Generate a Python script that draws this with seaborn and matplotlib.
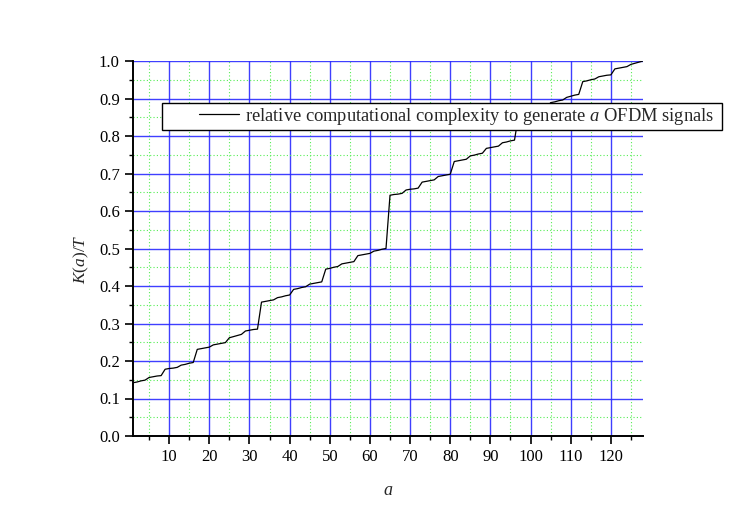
import numpy as np
import pandas as pd
import matplotlib
matplotlib.use("Agg")
import matplotlib.pyplot as plt
from matplotlib.ticker import MultipleLocator
from matplotlib.legend_handler import HandlerLine2D
import seaborn as sns

# ---- data ----
a_values = list(range(1, 129))
K_values = [
    0.142, 0.144, 0.147, 0.149, 0.156, 0.158, 0.160, 0.161,
    0.178, 0.180, 0.181, 0.183, 0.189, 0.191, 0.194, 0.196,
    0.231, 0.233, 0.235, 0.237, 0.243, 0.245, 0.247, 0.249,
    0.262, 0.265, 0.268, 0.271, 0.280, 0.282, 0.284, 0.285,
    0.357, 0.359, 0.361, 0.363, 0.369, 0.371, 0.374, 0.376,
    0.391, 0.393, 0.396, 0.398, 0.405, 0.407, 0.409, 0.411,
    0.445, 0.447, 0.450, 0.452, 0.459, 0.461, 0.463, 0.465,
    0.481, 0.483, 0.485, 0.487, 0.493, 0.495, 0.498, 0.500,
    0.642, 0.644, 0.645, 0.647, 0.656, 0.658, 0.659, 0.661,
    0.677, 0.679, 0.681, 0.683, 0.692, 0.694, 0.696, 0.698,
    0.732, 0.734, 0.736, 0.738, 0.747, 0.749, 0.752, 0.754,
    0.767, 0.769, 0.771, 0.773, 0.782, 0.784, 0.787, 0.789,
    0.855, 0.857, 0.859, 0.861, 0.868, 0.870, 0.872, 0.874,
    0.889, 0.891, 0.894, 0.896, 0.903, 0.906, 0.909, 0.911,
    0.945, 0.947, 0.950, 0.952, 0.958, 0.960, 0.962, 0.963,
    0.979, 0.981, 0.983, 0.985, 0.991, 0.994, 0.997, 1.000,
]
x_ticks = [10, 20, 30, 40, 50, 60, 70, 80, 90, 100, 110, 120]
y_ticks = [0.0, 0.1, 0.2, 0.3, 0.4, 0.5, 0.6, 0.7, 0.8, 0.9, 1.0]
series_label = "relative computational complexity to generate $a$ OFDM signals  "

df = pd.DataFrame({"a": a_values, "K": K_values})

sns.set_theme(style="white")
plt.rcParams["font.family"] = ["Liberation Serif", "DejaVu Serif"]
plt.rcParams["mathtext.fontset"] = "custom"
plt.rcParams["mathtext.it"] = "Liberation Serif:italic"
plt.rcParams["mathtext.rm"] = "Liberation Serif"

fig = plt.figure(figsize=(7.47, 5.23), dpi=100)
ax = fig.add_axes([133 / 747, 1 - 436 / 523, 510 / 747, 375 / 523])

sns.lineplot(data=df, x="a", y="K", ax=ax, color="black", linewidth=0.9,
             label=series_label, zorder=3)

ax.set_xlim(1, 128)
ax.set_ylim(0, 1.0)
ax.set_xticks(x_ticks)
ax.set_yticks(y_ticks)
ax.set_yticklabels([f"{v:.1f}" for v in y_ticks])
ax.xaxis.set_minor_locator(MultipleLocator(5))
ax.yaxis.set_minor_locator(MultipleLocator(0.05))

ax.grid(which="major", color="#2a2aff", linewidth=1.0, linestyle="-", alpha=0.9)
ax.grid(which="minor", color="#55ee55", linewidth=0.8, linestyle=(0, (1, 2)))
ax.set_axisbelow(True)

for s in ["top", "right"]:
    ax.spines[s].set_visible(False)
for s in ["left", "bottom"]:
    ax.spines[s].set_color("black")
    ax.spines[s].set_linewidth(1.4)

ax.tick_params(which="major", direction="out", length=5.5, width=1.2, colors="black",
               labelsize=12, left=True, bottom=True, pad=4)
ax.tick_params(which="minor", direction="out", length=3.2, width=1.0, colors="black",
               left=True, bottom=True)

ax.set_xlabel("$a$", fontsize=13, labelpad=12)
ax.set_ylabel("$K(a)/T$", fontsize=12.5)
ax.yaxis.set_label_coords(-0.082, 0.472)

leg = ax.legend(loc="upper left", bbox_to_anchor=(0.057, 0.888), borderaxespad=0,
                frameon=True, fancybox=False, edgecolor="black", framealpha=1,
                fontsize=13.3, handlelength=4.0, handletextpad=0.32,
                borderpad=0.15,
                handler_map={matplotlib.lines.Line2D: HandlerLine2D(xpad=1.84)})
leg.get_frame().set_linewidth(1.0)
leg.set_zorder(5)

fig.savefig("out.png", dpi=100)
